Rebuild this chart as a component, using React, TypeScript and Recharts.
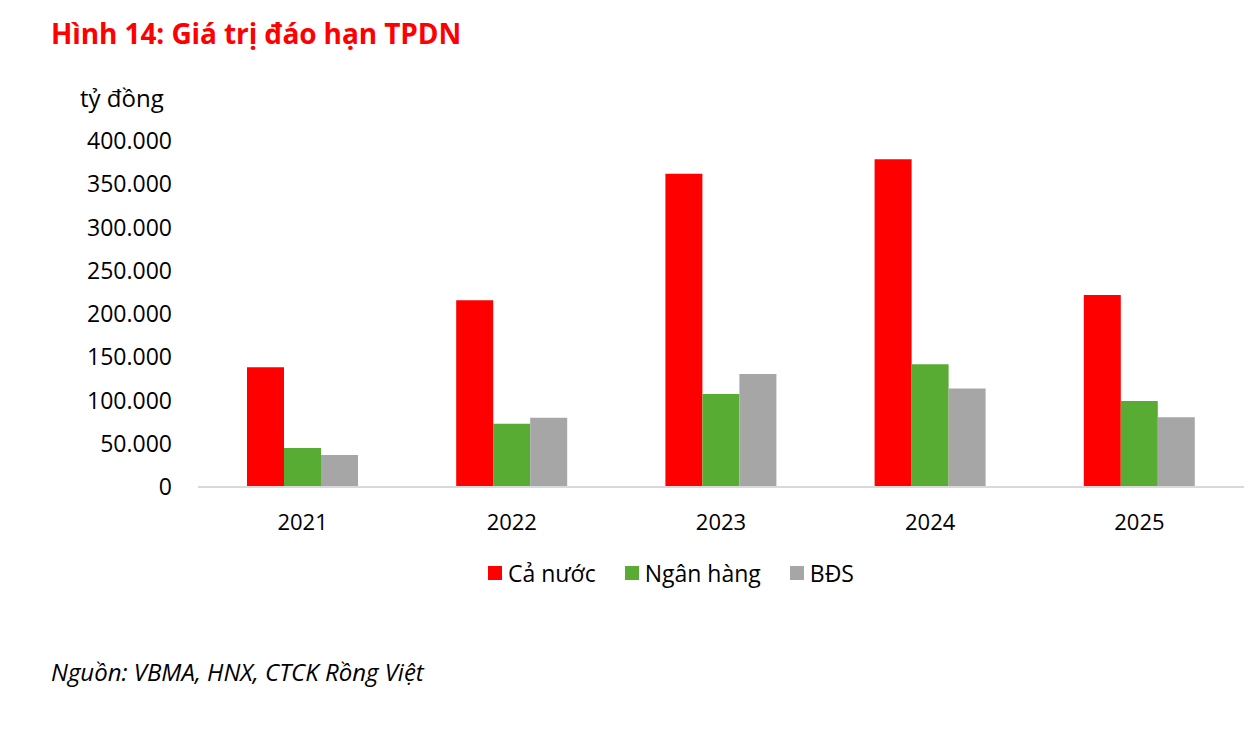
import { BarChart, Bar, XAxis, YAxis } from 'recharts'

const years = ['2021', '2022', '2023', '2024', '2025']
const caNuoc = [138500, 216000, 362000, 379000, 222000]
const nganHang = [45000, 73000, 107500, 142000, 99500]
const bds = [37000, 80000, 130500, 114000, 80500]
const yTicks = [0, 50000, 100000, 150000, 200000, 250000, 300000, 350000, 400000]

const series = [
  { key: 'caNuoc', name: 'Cả nước', color: '#FF0000' },
  { key: 'nganHang', name: 'Ngân hàng', color: '#59AC33' },
  { key: 'bds', name: 'BĐS', color: '#A6A6A6' },
]

const data = years.map((year, i) => ({
  year,
  caNuoc: caNuoc[i],
  nganHang: nganHang[i],
  bds: bds[i],
}))

const font = '"Open Sans", "Noto Sans", sans-serif'

// 400000 -> "400.000"
const fmt = (v: number) => String(v).replace(/\B(?=(\d{3})+(?!\d))/g, '.')

function Legend() {
  return (
    <div
      style={{
        position: 'absolute',
        left: 488,
        top: 557,
        display: 'flex',
        alignItems: 'center',
        fontFamily: font,
        fontSize: 23,
        color: '#000',
      }}
    >
      {series.map((s, i) => (
        <div key={s.key} style={{ display: 'flex', alignItems: 'center', marginRight: i < 2 ? 29 : 0 }}>
          <span style={{ width: 14, height: 14, background: s.color, marginRight: 6, display: 'inline-block' }} />
          <span>{s.name}</span>
        </div>
      ))}
    </div>
  )
}

export default function App() {
  return (
    <div style={{ position: 'absolute', left: 0, top: 0, width: 1250, height: 734, background: '#fff', fontFamily: font }}>
      <div
        style={{
          position: 'absolute',
          left: 51,
          top: 14,
          color: '#FF0000',
          fontWeight: 700,
          fontSize: 28,
          letterSpacing: -0.1,
          whiteSpace: 'nowrap',
        }}
      >
        Hình 14: Giá trị đáo hạn TPDN
      </div>
      <div style={{ position: 'absolute', left: 80, top: 81, fontSize: 24, color: '#000' }}>tỷ đồng</div>

      <div style={{ position: 'absolute', left: 0, top: 0 }}>
        <BarChart
          width={1250}
          height={560}
          data={data}
          margin={{ top: 141, right: 6, left: 0, bottom: 0 }}
          barGap={0}
          barSize={37}
        >
          <XAxis
            dataKey="year"
            axisLine={{ stroke: '#D9D9D9', strokeWidth: 2 }}
            tickLine={false}
            tickSize={0}
            tickMargin={27}
            height={73}
            tick={{ fill: '#000', fontSize: 22, fontFamily: font }}
          />
          <YAxis
            domain={[0, 400000]}
            ticks={yTicks}
            interval={0}
            width={198}
            axisLine={false}
            tickLine={false}
            tickSize={0}
            tickMargin={26}
            tickFormatter={fmt}
            tick={{ fill: '#000', fontSize: 23, fontFamily: font }}
          />
          {series.map((s) => (
            <Bar key={s.key} dataKey={s.key} name={s.name} fill={s.color} isAnimationActive={false} />
          ))}
        </BarChart>
      </div>

      <Legend />

      <div
        style={{
          position: 'absolute',
          left: 51,
          top: 655,
          fontSize: 24,
          fontStyle: 'italic',
          color: '#000',
          whiteSpace: 'nowrap',
        }}
      >
        Nguồn: VBMA, HNX, CTCK Rồng Việt
      </div>
    </div>
  )
}
